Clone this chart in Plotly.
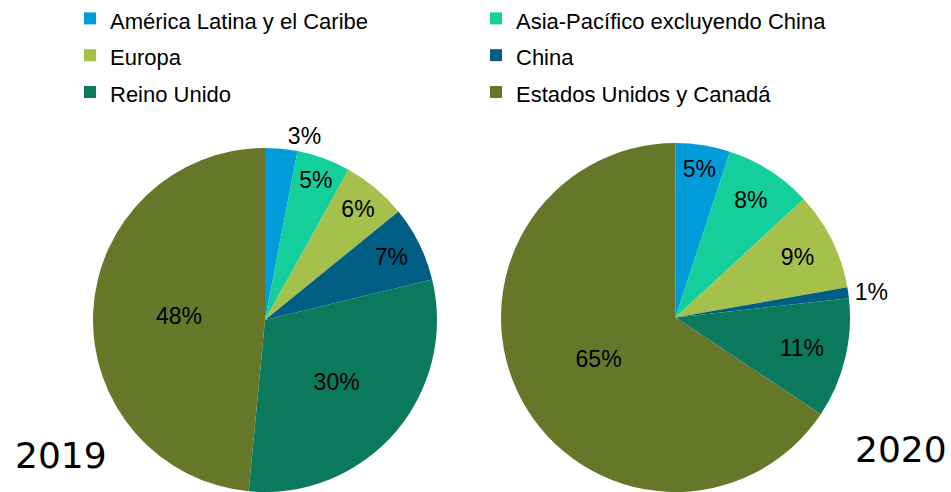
import plotly.graph_objects as go

# Regional breakdown shares (%) for each year
regions = [
    "América Latina y el Caribe",
    "Asia-Pacífico excluyendo China",
    "Europa",
    "China",
    "Reino Unido",
    "Estados Unidos y Canadá",
]
shares_2019 = [3, 5, 6, 7, 30, 48]
shares_2020 = [5, 8, 9, 1, 11, 65]
years = ["2019", "2020"]

colors = ["#009CDA", "#14CF9B", "#A6C14B", "#005E85", "#0B7A5C", "#67772A"]

W, H = 951, 492
FONT = "Liberation Sans, Arial, sans-serif"
YEAR_FONT = "DejaVu Sans, Verdana, sans-serif"

# legend entries are drawn a bit smaller than the legend's row pitch
legend_labels = [f'<span style="font-size:22px">{r}</span>' for r in regions]


def positions(values, small):
    return ["outside" if v <= small else "inside" for v in values]


def pie(values, small, domain, name):
    return go.Pie(
        labels=legend_labels,
        values=values,
        text=[f"{v}%" for v in values],
        textinfo="text",
        textposition=positions(values, small),
        insidetextorientation="horizontal",
        sort=False,
        direction="clockwise",
        rotation=0,
        marker=dict(colors=colors, line=dict(width=0)),
        textfont=dict(family=FONT, size=23, color="#000000"),
        domain=domain,
        hoverinfo="label+text",
        name=name,
    )


fig = go.Figure()
fig.add_trace(pie(shares_2019, 3, dict(x=[93 / W, 437 / W], y=[0, 344 / H]), years[0]))
fig.add_trace(pie(shares_2020, 1, dict(x=[501 / W, 850 / W], y=[0, 349 / H]), years[1]))

fig.update_layout(
    width=W,
    height=H,
    margin=dict(l=0, r=0, t=0, b=0, autoexpand=False),
    paper_bgcolor="white",
    plot_bgcolor="white",
    uniformtext=dict(minsize=23, mode="show"),
    legend=dict(
        orientation="h",
        x=70 / W,
        xanchor="left",
        y=1 + 5 / H,
        yanchor="top",
        entrywidth=361,
        font=dict(family=FONT, size=26, color="#000000"),
        traceorder="normal",
        bgcolor="rgba(0,0,0,0)",
    ),
    annotations=[
        dict(text=years[0], x=13 / W, y=(492 - 455) / H, xref="paper", yref="paper",
             xanchor="left", yanchor="middle", showarrow=False,
             font=dict(family=YEAR_FONT, size=36, color="#000000")),
        dict(text=years[1], x=949 / W, y=(492 - 449.5) / H, xref="paper", yref="paper",
             xanchor="right", yanchor="middle", showarrow=False,
             font=dict(family=YEAR_FONT, size=36, color="#000000")),
    ],
)

fig.write_html("out.html")
